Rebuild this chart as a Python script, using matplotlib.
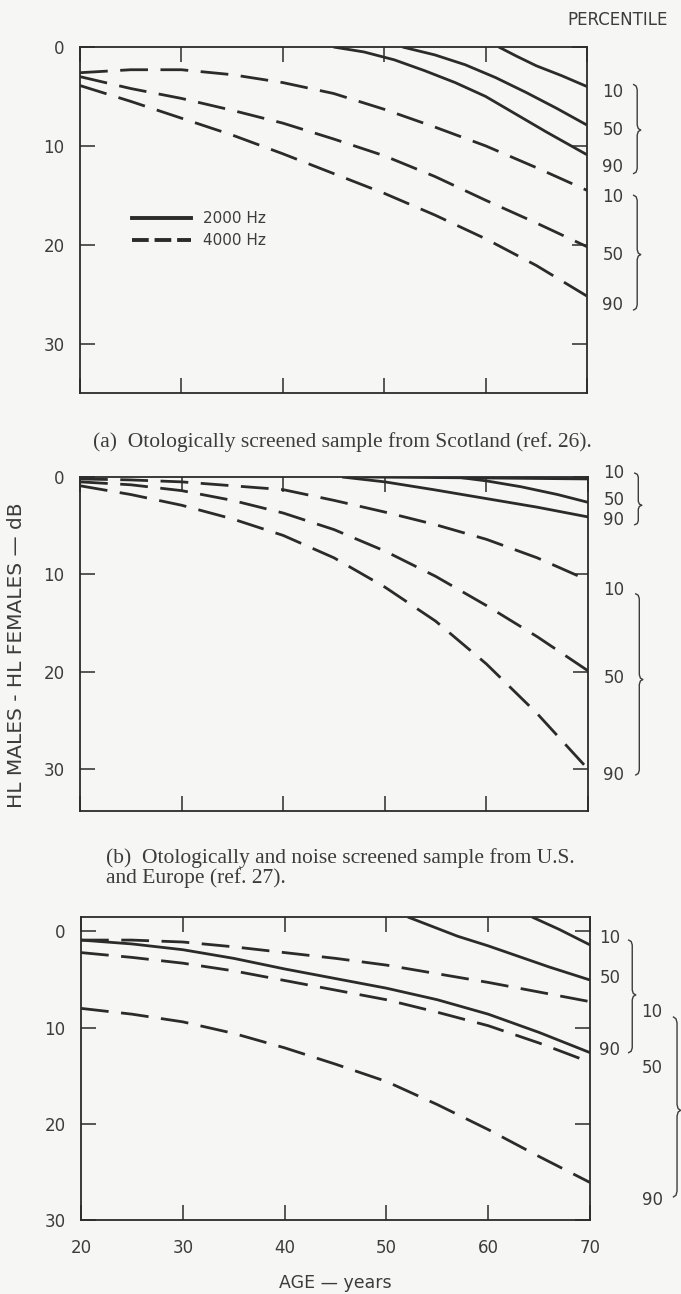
import matplotlib
matplotlib.use("Agg")
import matplotlib.pyplot as plt
import matplotlib.transforms as mtransforms
from matplotlib.lines import Line2D

# ---- data: HL males - HL females (dB) vs age ----
ages = [20, 25, 30, 35, 40, 45, 50, 55, 60, 65, 70]

# (a) Scotland
a_2k_10_age = [61.3, 63, 65, 67.5, 70]
a_2k_10 = [0.0, 0.9, 1.9, 2.9, 4.0]
a_2k_50_age = [51.8, 55, 58, 61, 64, 67, 70]
a_2k_50 = [0.0, 0.8, 1.8, 3.1, 4.6, 6.2, 7.9]
a_2k_90_age = [45, 48, 51, 54, 57, 60, 63, 66, 70]
a_2k_90 = [0.0, 0.5, 1.3, 2.4, 3.6, 5.0, 6.8, 8.6, 10.9]
a_4k_10 = [2.6, 2.3, 2.3, 2.8, 3.6, 4.7, 6.3, 8.1, 10.0, 12.2, 14.5]
a_4k_50 = [3.0, 4.2, 5.2, 6.4, 7.7, 9.3, 11.0, 13.1, 15.5, 17.8, 20.2]
a_4k_90 = [3.9, 5.5, 7.2, 8.9, 10.8, 12.8, 14.8, 17.0, 19.4, 22.1, 25.2]

# (b) U.S. and Europe
b_2k_10_age = [48, 60, 70]
b_2k_10 = [0.0, 0.1, 0.2]
b_2k_50_age = [57, 60, 63.4, 67, 70]
b_2k_50 = [0.0, 0.4, 1.0, 1.8, 2.6]
b_2k_90_age = [45.8, 50, 54.8, 59.9, 65, 70]
b_2k_90 = [0.0, 0.5, 1.3, 2.2, 3.1, 4.1]
b_4k_10 = [0.2, 0.3, 0.5, 0.9, 1.3, 2.4, 3.6, 4.9, 6.4, 8.3, 10.6]
b_4k_50 = [0.5, 0.8, 1.4, 2.4, 3.7, 5.4, 7.6, 10.2, 13.2, 16.4, 19.9]
b_4k_90 = [0.9, 1.8, 2.9, 4.3, 6.0, 8.3, 11.3, 14.8, 19.2, 24.3, 30.0]

# (c)
c_2k_10_age = [64.3, 67, 70]
c_2k_10 = [-1.5, -0.2, 1.4]
c_2k_50_age = [52.1, 57, 60, 63, 66, 70]
c_2k_50 = [-1.5, 0.5, 1.5, 2.6, 3.7, 5.05]
c_2k_90 = [0.9, 1.3, 1.9, 2.8, 3.9, 4.9, 5.9, 7.1, 8.6, 10.5, 12.6]
c_4k_10 = [0.9, 0.9, 1.1, 1.6, 2.2, 2.8, 3.5, 4.4, 5.3, 6.3, 7.3]
c_4k_50 = [2.2, 2.7, 3.3, 4.1, 5.1, 6.1, 7.1, 8.4, 9.8, 11.6, 13.6]
c_4k_90 = [8.0, 8.6, 9.4, 10.6, 12.1, 13.8, 15.6, 18.0, 20.6, 23.4, 26.1]

pct_labels = ["10", "50", "90"]
x_ticks = [20, 30, 40, 50, 60, 70]
y_ticks = [0, 10, 20, 30]

captions = [
    "(a)  Otologically screened sample from Scotland (ref. 26).",
    "(b)  Otologically and noise screened sample from U.S.\nand Europe (ref. 27).",
]

# ---- style ----
BG = "#f6f6f4"
INK = "#2b2b2b"
TXT = "#3c3c3c"
LW = 2.0
DASH = (10, 4.5)
SANS = "DejaVu Sans"
SERIF = "Liberation Serif"

fig = plt.figure(figsize=(6.81, 12.94), dpi=100, facecolor=BG)
W, H = 681.0, 1294.0


def add_axes(l, t, r, b):
    return fig.add_axes([l / W, 1 - b / H, (r - l) / W, (b - t) / H], facecolor=BG)


def style_axes(ax, ylim, xlabels):
    ax.set_xlim(20, 70)
    ax.set_ylim(*ylim)
    ax.set_xticks(x_ticks)
    ax.set_yticks([t for t in y_ticks if t <= ylim[0]])
    ax.tick_params(direction="in", length=10.5, width=1.1, color=INK,
                   top=True, right=True, labelsize=12, labelcolor=TXT)
    ax.tick_params(axis="y", pad=11)
    ax.tick_params(axis="x", pad=14, labelbottom=xlabels)
    for sp in ax.spines.values():
        sp.set_linewidth(1.3)
        sp.set_color(INK)


def brace(ax, x, y_top, y_bot, y_tip, h, w=0.007):
    tr = mtransforms.blended_transform_factory(ax.transAxes, ax.transData)
    xs = [x - w, x - w * 0.3, x, x, x + w * 0.3, x + w, x + w * 0.3, x, x, x - w * 0.3, x - w]
    ys = [y_top, y_top + h * 0.3, y_top + h, y_tip - h, y_tip - h * 0.3, y_tip,
          y_tip + h * 0.3, y_tip + h, y_bot - h, y_bot - h * 0.3, y_bot]
    ax.plot(xs, ys, color=TXT, lw=1.0, transform=tr, clip_on=False)


def right_labels(ax, x, ys):
    tr = mtransforms.blended_transform_factory(ax.transAxes, ax.transData)
    for lab, y in zip(pct_labels, ys):
        ax.text(x, y, lab, transform=tr, ha="center", va="center",
                fontsize=12, color=TXT, family=SANS)


def curves(ax, solid, dashed):
    for xs, ys in solid:
        ax.plot(xs, ys, color=INK, lw=LW, solid_capstyle="butt")
    for ys in dashed:
        ax.plot(ages, ys, color=INK, lw=LW, dashes=DASH, dash_capstyle="butt")


# ---- panel (a) ----
ax_a = add_axes(80, 47, 587, 393)
style_axes(ax_a, (35, 0), False)
curves(ax_a,
       [(a_2k_10_age, a_2k_10), (a_2k_50_age, a_2k_50), (a_2k_90_age, a_2k_90)],
       [a_4k_10, a_4k_50, a_4k_90])
right_labels(ax_a, 1.051, [4.6, 8.4, 12.1])
right_labels(ax_a, 1.051, [15.2, 21.0, 26.1])
brace(ax_a, 1.099, 3.8, 12.8, 8.4, 0.5)
brace(ax_a, 1.099, 15.0, 26.6, 21.0, 0.5)
handles = [Line2D([], [], color=INK, lw=2.8),
           Line2D([], [], color=INK, lw=2.8, dashes=(4.3, 1.5))]
ax_a.legend(handles, ["2000 Hz", "4000 Hz"], loc="upper left",
            bbox_to_anchor=(0.075, 0.565), frameon=False, handlelength=3.9,
            handletextpad=0.75, labelspacing=0.45, fontsize=11, labelcolor=TXT)
fig.text(93 / W, 1 - 442 / H, captions[0], family=SERIF, fontsize=15.5,
         color=TXT, ha="left", va="center")
fig.text(668 / W, 1 - 20 / H, "PERCENTILE", family=SANS, fontsize=12,
         color=TXT, ha="right", va="center")

# ---- panel (b) ----
ax_b = add_axes(80, 477, 588, 811)
style_axes(ax_b, (34.3, 0), False)
curves(ax_b,
       [(b_2k_10_age, b_2k_10), (b_2k_50_age, b_2k_50), (b_2k_90_age, b_2k_90)],
       [b_4k_10, b_4k_50, b_4k_90])
right_labels(ax_b, 1.051, [-0.4, 2.4, 4.4])
right_labels(ax_b, 1.051, [11.6, 20.6, 30.6])
brace(ax_b, 1.099, -0.4, 4.9, 2.9, 0.4)
brace(ax_b, 1.101, 12.0, 30.6, 20.8, 0.5)
fig.text(106 / W, 1 - 868 / H, captions[1], family=SERIF, fontsize=15.5,
         color=TXT, ha="left", va="center", linespacing=1.05)

# ---- panel (c) ----
ax_c = add_axes(81, 917, 590, 1220)
style_axes(ax_c, (30, -1.5), True)
curves(ax_c,
       [(c_2k_10_age, c_2k_10), (c_2k_50_age, c_2k_50), (ages, c_2k_90)],
       [c_4k_10, c_4k_50, c_4k_90])
right_labels(ax_c, 1.039, [0.7, 4.8, 12.3])
right_labels(ax_c, 1.122, [8.4, 14.2, 27.9])
brace(ax_c, 1.083, 0.9, 12.6, 6.6, 0.5)
brace(ax_c, 1.171, 8.9, 27.6, 18.6, 0.6)
ax_c.set_xlabel("AGE \u2014 years", fontsize=12.5, color=TXT, family=SANS, labelpad=12)

fig.text(17 / W, 1 - 655 / H, "HL MALES - HL FEMALES \u2014 dB", rotation=90,
         family=SANS, fontsize=14.5, color=TXT, ha="center", va="center")

fig.savefig("out.png", dpi=100, facecolor=BG)
plt.close(fig)
